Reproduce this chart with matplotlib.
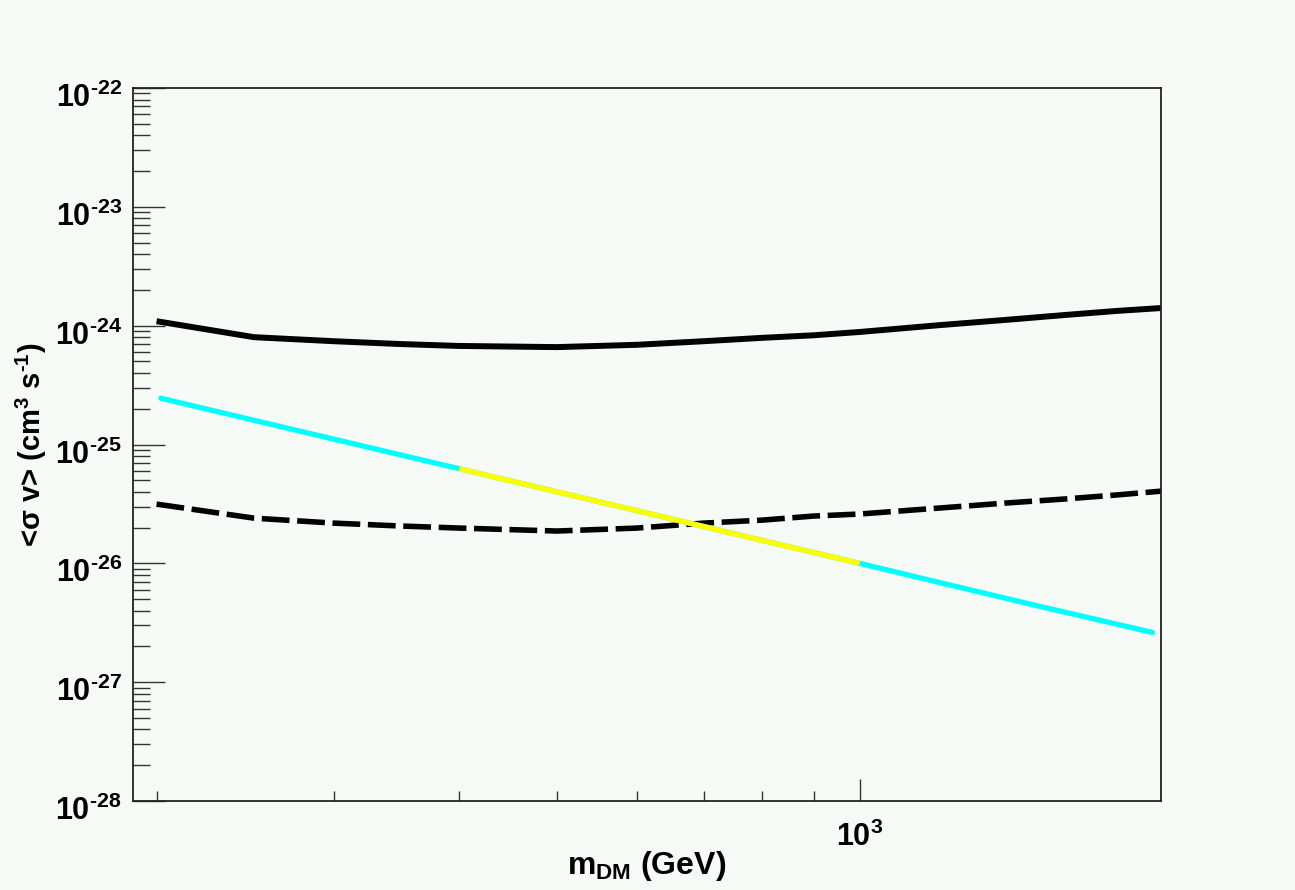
import numpy as np
import matplotlib
matplotlib.use("Agg")
from matplotlib import pyplot as plt
from matplotlib import transforms
from matplotlib.ticker import LogLocator, NullFormatter, FixedLocator, FixedFormatter

# values
mass = [200, 250, 300, 350, 400, 500, 600, 700, 800, 900, 1000,
        1200, 1400, 1600, 1800, 2000]
limit_solid = [1.09e-24, 8.0e-25, 7.4e-25, 7.0e-25, 6.75e-25, 6.6e-25,
               6.9e-25, 7.4e-25, 7.9e-25, 8.3e-25, 8.85e-25,
               1.01e-24, 1.12e-24, 1.23e-24, 1.33e-24, 1.41e-24]
limit_dashed = [3.15e-26, 2.4e-26, 2.18e-26, 2.06e-26, 1.98e-26, 1.87e-26,
                1.98e-26, 2.18e-26, 2.31e-26, 2.5e-26, 2.6e-26,
                2.92e-26, 3.22e-26, 3.48e-26, 3.76e-26, 4.06e-26]

cyan_mass = [202, 300, 400, 500, 600, 700, 800, 1000, 1200, 1500, 1955]
cyan_sv = [2.45e-25, 1.11e-25, 6.25e-26, 4.0e-26, 2.78e-26, 2.04e-26,
           1.56e-26, 1.0e-26, 6.9e-27, 4.4e-27, 2.62e-27]

yellow_mass = [400, 500, 600, 700, 800, 1000]
yellow_sv = [6.25e-26, 4.0e-26, 2.78e-26, 2.04e-26, 1.56e-26, 1.0e-26]

ytick_vals = [1e-28, 1e-27, 1e-26, 1e-25, 1e-24, 1e-23, 1e-22]
ytick_exp = ['-28', '-27', '-26', '-25', '-24', '-23', '-22']
xtick_vals = [1000]
xtick_exp = ['3']

HY = '\u2010'  # short hyphen like the ROOT picture, not a math minus
ytick_labels = ['$10^{%s}$' % e.replace('-', HY) for e in ytick_exp]
xtick_labels = ['$10^{%s}$' % e for e in xtick_exp]

plt.rcParams['font.family'] = ['Liberation Sans', 'DejaVu Sans']
plt.rcParams['font.weight'] = 'bold'
plt.rcParams['mathtext.fontset'] = 'custom'
plt.rcParams['mathtext.rm'] = 'Liberation Sans:bold'
plt.rcParams['mathtext.it'] = 'Liberation Sans:bold'
plt.rcParams['mathtext.bf'] = 'Liberation Sans:bold'
plt.rcParams['mathtext.default'] = 'bf'
plt.rcParams['axes.unicode_minus'] = False
plt.rcParams['lines.scale_dashes'] = False

bg = '#f5faf7'
fig = plt.figure(figsize=(12.95, 8.9), dpi=100, facecolor=bg)
ax = fig.add_axes([133 / 1295, 1 - 801 / 890, (1161 - 133) / 1295, (801 - 88) / 890])
ax.set_facecolor(bg)

ax.plot(mass, limit_solid, color='black', lw=4.3, solid_capstyle='butt')
ax.plot(mass, limit_dashed, color='black', lw=4.0, dashes=(20, 5.5))
ax.plot(cyan_mass, cyan_sv, color='#00ffff', lw=3.8, solid_capstyle='round')
ax.plot(yellow_mass, yellow_sv, color='#ffff00', lw=3.8, solid_capstyle='butt')

ax.set_xscale('log')
ax.set_yscale('log')
ax.set_xlim(189.5, 1993)
ax.set_ylim(1e-28, 1e-22)

ax.yaxis.set_major_locator(FixedLocator(ytick_vals))
ax.yaxis.set_major_formatter(FixedFormatter(ytick_labels))
ax.yaxis.set_minor_locator(LogLocator(base=10, subs=np.arange(2, 10), numticks=50))
ax.yaxis.set_minor_formatter(NullFormatter())
ax.xaxis.set_major_locator(FixedLocator(xtick_vals))
ax.xaxis.set_major_formatter(FixedFormatter(xtick_labels))
ax.xaxis.set_minor_locator(LogLocator(base=10, subs=np.arange(2, 10), numticks=50))
ax.xaxis.set_minor_formatter(NullFormatter())

ax.tick_params(axis='y', which='major', direction='in', length=23, width=1.0,
               color='#333333', labelsize=22, pad=8)
ax.tick_params(axis='y', which='minor', direction='in', length=12, width=1.0,
               color='#333333')
ax.tick_params(axis='x', which='major', direction='in', length=16, width=1.0,
               color='#333333', labelsize=22, pad=15)
ax.tick_params(axis='x', which='minor', direction='in', length=7.2, width=1.0,
               color='#333333')
for s in ax.spines.values():
    s.set_linewidth(1.3)
    s.set_color('#222222')

# ROOT puts the y labels a bit below the tick
shift = transforms.ScaledTranslation(0, -0.07, fig.dpi_scale_trans)
for lab in ax.get_yticklabels():
    lab.set_transform(lab.get_transform() + shift)

ax.set_xlabel(r'm$_{DM}$ (GeV)', fontsize=23, fontweight='bold', labelpad=-3)
ax.set_ylabel('<σ v> (cm$^{3}$ s$^{%s1}$)' % HY, fontsize=21, fontweight='bold',
              labelpad=4)

fig.savefig('out.png', dpi=100, facecolor=bg)
